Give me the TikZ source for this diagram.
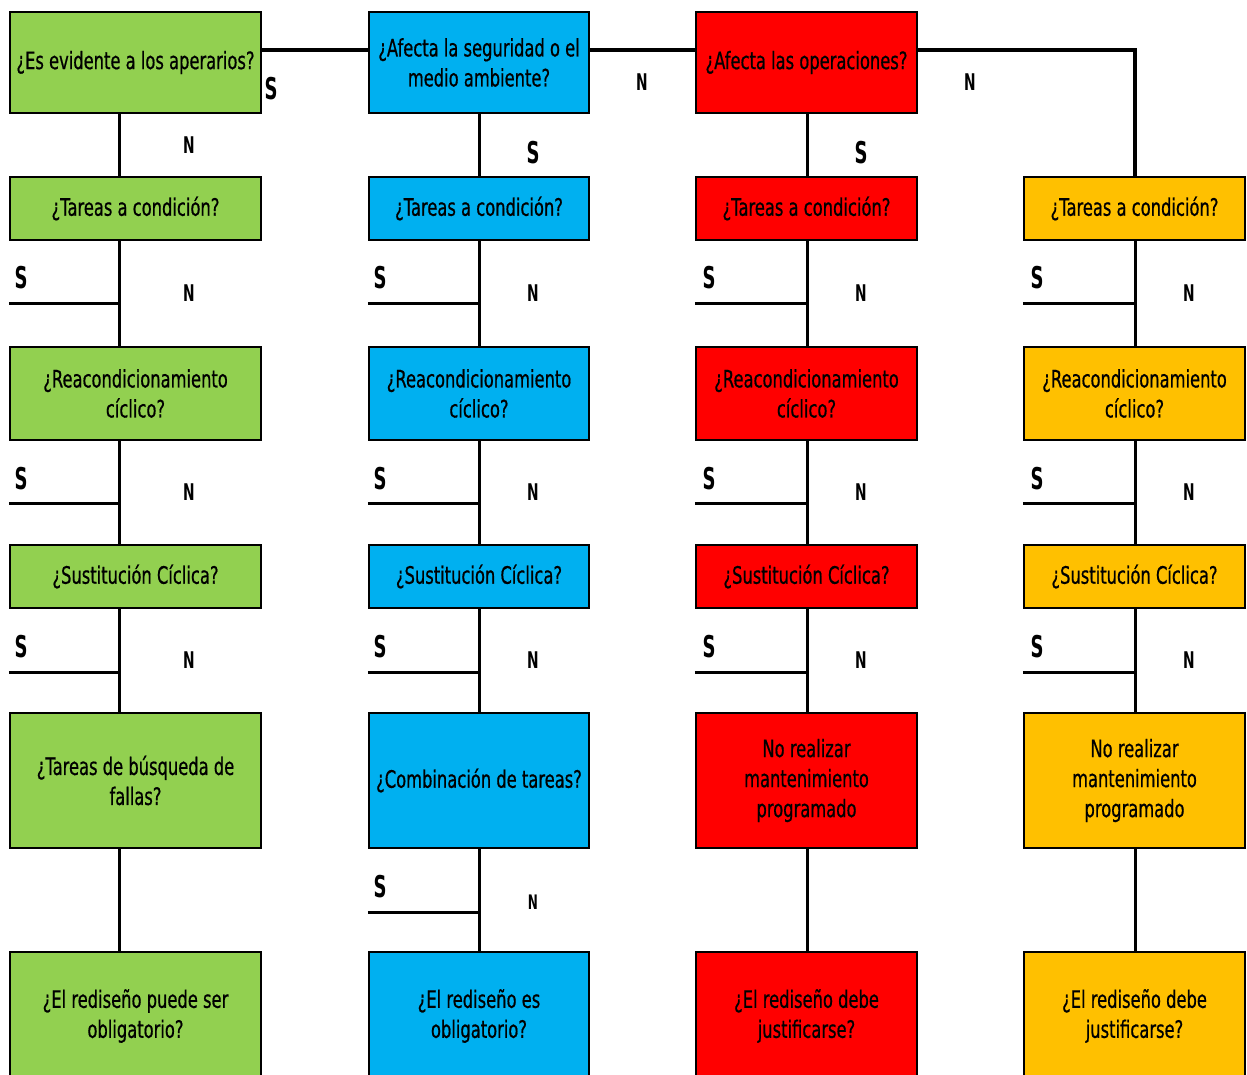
\documentclass[tikz,border=0pt]{standalone}
\usepackage{fontspec}
\setmainfont{DejaVu Sans}[FakeStretch=0.6]
\newfontfamily\boxfont{DejaVu Sans}[FakeStretch=0.68,FakeBold=0.6]
\definecolor{cgreen}{HTML}{92D050}
\definecolor{cblue}{HTML}{00B0F0}
\definecolor{cred}{HTML}{FF0000}
\definecolor{cyellow}{HTML}{FFC000}
\tikzset{
  box/.style={draw=black, line width=2.5pt, rectangle, inner sep=0pt, align=center,
    font=\boxfont\fontsize{24}{30}\selectfont},
  gbox/.style={box, fill=cgreen, minimum width=251},
  bbox/.style={box, fill=cblue, minimum width=220},
  rbox/.style={box, fill=cred, minimum width=221},
  ybox/.style={box, fill=cyellow, minimum width=221},
  hA/.style={minimum height=101}, hB/.style={minimum height=63},
  hC/.style={minimum height=93}, hD/.style={minimum height=63},
  hE/.style={minimum height=135}, hF/.style={minimum height=128},
  link/.style={draw=black, line width=3pt},
  toplink/.style={draw=black, line width=3.5pt},
  slbl/.style={inner sep=0pt, font=\fontsize{30}{30}\selectfont\bfseries},
  nlbl/.style={inner sep=0pt, font=\fontsize{23}{23}\selectfont\bfseries},
  nsmall/.style={inner sep=0pt, font=\fontsize{20}{20}\selectfont\bfseries},
}
\begin{document}
\begin{tikzpicture}[x=1pt,y=-1pt]
\useasboundingbox (0,0) rectangle (1247,1075);
\clip (0,0) rectangle (1247,1075);
\fill[white] (0,0) rectangle (1247,1075);
% column line coordinates
\coordinate (c1) at (119,0);
\coordinate (c2) at (479,0);
\coordinate (c3) at (807,0);
\coordinate (c4) at (1135,0);
\coordinate (h) at (0,50);
% stub y-levels
\coordinate (y1) at (0,303);
\coordinate (y2) at (0,503);
\coordinate (y3) at (0,672);
\coordinate (y4) at (0,912);

% ---- row 1
\node[gbox,hA] (g1) at (135.5,62.5) {¿Es evidente a los aperarios?};
\node[bbox,hA] (b1) at (479,62.5) {¿Afecta la seguridad o el\\medio ambiente?};
\node[rbox,hA] (r1) at (806.5,62.5) {¿Afecta las operaciones?};
% ---- row 2
\node[gbox,hB] (g2) at (135.5,208.5) {¿Tareas a condición?};
\node[bbox,hB] (b2) at (479,208.5) {¿Tareas a condición?};
\node[rbox,hB] (r2) at (806.5,208.5) {¿Tareas a condición?};
\node[ybox,hB] (y2b) at (1134.5,208.5) {¿Tareas a condición?};
% ---- row 3
\node[gbox,hC] (g3) at (135.5,393.5) {¿Reacondicionamiento\\cíclico?};
\node[bbox,hC] (b3) at (479,393.5) {¿Reacondicionamiento\\cíclico?};
\node[rbox,hC] (r3) at (806.5,393.5) {¿Reacondicionamiento\\cíclico?};
\node[ybox,hC] (y3b) at (1134.5,393.5) {¿Reacondicionamiento\\cíclico?};
% ---- row 4
\node[gbox,hD] (g4) at (135.5,576.5) {¿Sustitución Cíclica?};
\node[bbox,hD] (b4) at (479,576.5) {¿Sustitución Cíclica?};
\node[rbox,hD] (r4) at (806.5,576.5) {¿Sustitución Cíclica?};
\node[ybox,hD] (y4b) at (1134.5,576.5) {¿Sustitución Cíclica?};
% ---- row 5
\node[gbox,hE] (g5) at (135.5,780.5) {¿Tareas de búsqueda de\\fallas?};
\node[bbox,hE] (b5) at (479,780.5) {¿Combinación de tareas?};
\node[rbox,hE] (r5) at (806.5,780.5) {No realizar\\mantenimiento\\programado};
\node[ybox,hE] (y5b) at (1134.5,780.5) {No realizar\\mantenimiento\\programado};
% ---- row 6
\node[gbox,hF] (g6) at (135.5,1016) {¿El rediseño puede ser\\obligatorio?};
\node[bbox,hF] (b6) at (479,1016) {¿El rediseño es\\obligatorio?};
\node[rbox,hF] (r6) at (806.5,1016) {¿El rediseño debe\\justificarse?};
\node[ybox,hF] (y6b) at (1134.5,1016) {¿El rediseño debe\\justificarse?};

% ---- top connectors
\draw[toplink] (g1.east |- h) -- (b1.west |- h);
\draw[toplink] (b1.east |- h) -- (r1.west |- h);
\draw[toplink] (r1.east |- h) -- (c4 |- h) -- (y2b.north -| c4);

% ---- vertical connectors
\foreach \a/\b/\c in {g1/g2/c1,g2/g3/c1,g3/g4/c1,g4/g5/c1,g5/g6/c1,
                      b1/b2/c2,b2/b3/c2,b3/b4/c2,b4/b5/c2,b5/b6/c2,
                      r1/r2/c3,r2/r3/c3,r3/r4/c3,r4/r5/c3,r5/r6/c3,
                      y2b/y3b/c4,y3b/y4b/c4,y4b/y5b/c4,y5b/y6b/c4}
  \draw[link] (\a.south -| \c) -- (\b.north -| \c);

% ---- S stubs
\foreach \bx/\c in {g2/c1,b2/c2,r2/c3,y2b/c4}
  \draw[link] (\bx.west |- y1) -- (\c |- y1);
\foreach \bx/\c in {g3/c1,b3/c2,r3/c3,y3b/c4}
  \draw[link] (\bx.west |- y2) -- (\c |- y2);
\foreach \bx/\c in {g4/c1,b4/c2,r4/c3,y4b/c4}
  \draw[link] (\bx.west |- y3) -- (\c |- y3);
\draw[link] (b5.west |- y4) -- (c2 |- y4);

% ---- labels row 1
\node[slbl] (s0a) at (271,89) {S};
\node[nlbl] (n0a) at (189,145) {N};
\node[nlbl] (n0b) at (642,82) {N};
\node[slbl] (s0b) at (533,153) {S};
\node[slbl] (s0c) at (861,153) {S};
\node[nlbl] (n0c) at (970,82) {N};

% ---- grid labels
\foreach \sx/\nx/\k in {21/189/1,380/533/2,709/861/3,1037/1189/4}{
  \node[slbl] (sA\k) at (\sx,278) {S};
  \node[nlbl] (nA\k) at (\nx,293) {N};
  \node[slbl] (sB\k) at (\sx,479) {S};
  \node[nlbl] (nB\k) at (\nx,492) {N};
  \node[slbl] (sC\k) at (\sx,647) {S};
  \node[nlbl] (nC\k) at (\nx,660) {N};
}
\node[slbl] (sD2) at (380,887) {S};
\node[nsmall] (nD2) at (533,902) {N};
\end{tikzpicture}
\end{document}
